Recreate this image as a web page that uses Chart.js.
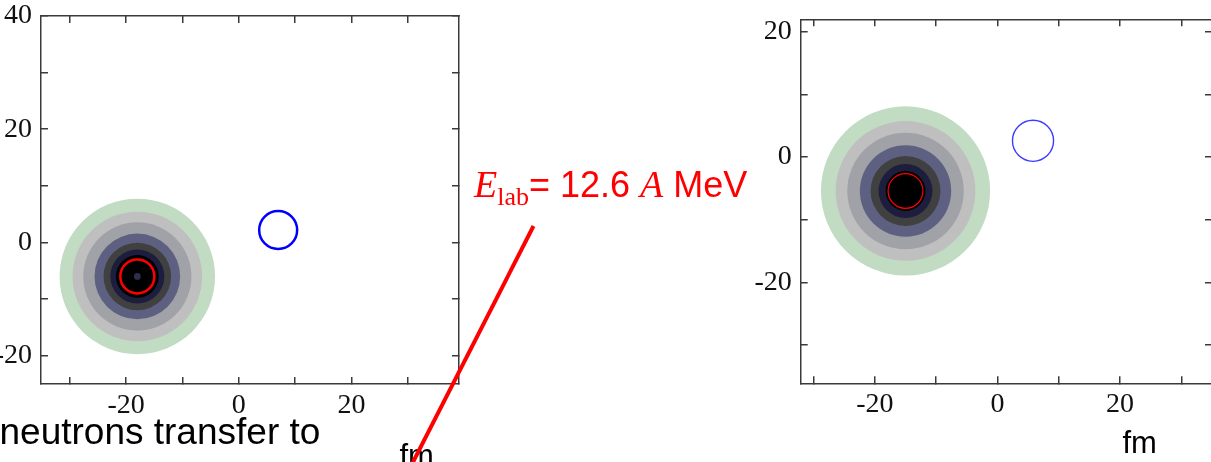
<!DOCTYPE html>
<html>
<head>
<meta charset="utf-8">
<script src="https://cdn.jsdelivr.net/npm/chart.js@4.4.1/dist/chart.umd.min.js"></script>
<style>
html, body { margin: 0; padding: 0; background: #fff; overflow: hidden; width: 1211px; height: 462px; position: relative; }
canvas { position: absolute; top: 0; }
#cl { left: 0; }
#cr { left: 740px; }
svg { position: absolute; left: 0; top: 0; }
</style>
</head>
<body>
<canvas id="cl" width="470" height="462"></canvas>
<canvas id="cr" width="480" height="462"></canvas>
<svg width="1211" height="462">
  <text x="-0.5" y="444" font-family="Liberation Sans" font-size="37" fill="#000">neutrons transfer to</text>
  <text x="399.5" y="466" font-family="Liberation Sans" font-size="31" fill="#000">fm</text>
  <text x="1122.5" y="453" font-family="Liberation Sans" font-size="31" fill="#000">fm</text>
  <line x1="533.5" y1="226" x2="411" y2="466" stroke="#ff0000" stroke-width="4"/>
  <text x="474" y="197" fill="#ff0000"><tspan font-family="Liberation Serif" font-style="italic" font-size="38">E</tspan><tspan font-family="Liberation Serif" font-size="26" dy="8">lab</tspan><tspan font-family="Liberation Sans" font-size="36" dy="-8">= 12.6 </tspan><tspan font-family="Liberation Serif" font-style="italic" font-size="38">A</tspan><tspan font-family="Liberation Sans" font-size="36"> MeV</tspan></text>
</svg>
<script>
// ring colours, outermost first
const ringColors = ['#c1dcc3', '#bfbfbf', '#a1a1a8', '#5e6081', '#404040', '#1d1d3e', '#000000'];

// left panel (fm)
const leftRange = { xMin: -35.1, xMax: 39.1, yMin: -25, yMax: 40 };
const leftCenter = { x: -18, y: -6 };
const leftRingRadii = [13.8, 11.5, 9.6, 7.6, 6.0, 4.8, 3.8];
const leftRedRadius = 3.02;
const leftDotRadius = 0.6;
const leftBlue = { x: 7.0, y: 2.2, r: 3.37 };

// right panel (fm)
const rightRange = { xMin: -32.1, xMax: 35.0, yMin: -36.1, yMax: 22 };
const rightCenter = { x: -15, y: -5.4 };
const rightRingRadii = [13.8, 11.4, 9.5, 7.45, 5.7, 4.4, 3.25];
const rightRedRadius = 2.84;
const rightBlue = { x: 5.8, y: 2.6, r: 3.35 };

// radius in data units -> pixels, through the x scale
const pxr = (chart, r) => Math.abs(chart.scales.x.getPixelForValue(r) - chart.scales.x.getPixelForValue(0));

function circle(pt, r, fill, stroke, sw, order) {
  return {
    data: [{ x: pt.x, y: pt.y }],
    pointRadius: c => pxr(c.chart, r),
    pointHoverRadius: c => pxr(c.chart, r),
    pointBackgroundColor: fill,
    pointBorderColor: stroke || 'rgba(0,0,0,0)',
    pointBorderWidth: sw || 0,
    order: order
  };
}

function axis(pos, min, max, size, labels) {
  return {
    type: 'linear',
    position: pos,
    min: min,
    max: max,
    border: { display: true, color: '#3a3a3a', width: 1.5 },
    grid: { display: true, drawOnChartArea: false, drawTicks: true, tickLength: -7, color: '#3a3a3a', lineWidth: 1.5 },
    ticks: {
      display: labels,
      stepSize: 10,
      includeBounds: false,
      autoSkip: false,
      maxRotation: 0,
      padding: (pos === 'left' || pos === 'right') ? 16 : 12,
      color: '#111',
      font: { family: 'Liberation Serif', size: 28 },
      callback: v => (v % 20 === 0 ? String(v) : '')
    },
    afterFit: s => {
      if (s.isHorizontal()) s.height = size; else s.width = size;
      // no extra room for labels hanging past the ends
      s.paddingTop = 0; s.paddingBottom = 0; s.paddingLeft = 0; s.paddingRight = 0;
    }
  };
}

function makePanel(id, range, center, radii, redR, redW, dotR, blue, blueColor, blueW, pad, yw, xh) {
  const datasets = [];
  radii.forEach((r, i) => datasets.push(circle(center, r, ringColors[i], null, 0, 100 - i)));
  datasets.push(circle(center, redR, 'rgba(0,0,0,0)', '#ff0000', redW, 5));
  if (dotR) datasets.push(circle(center, dotR, '#2e2e4e', null, 0, 4));
  datasets.push(circle(blue, blue.r, 'rgba(0,0,0,0)', blueColor, blueW, 3));

  return new Chart(document.getElementById(id), {
    type: 'scatter',
    data: { datasets: datasets },
    options: {
      responsive: false,
      animation: false,
      events: [],
      layout: { padding: pad },
      plugins: { legend: { display: false }, tooltip: { enabled: false } },
      scales: {
        x: axis('bottom', range.xMin, range.xMax, xh, true),
        x2: axis('top', range.xMin, range.xMax, 0, false),
        y: axis('left', range.yMin, range.yMax, yw, true),
        y2: axis('right', range.yMin, range.yMax, 0, false)
      }
    }
  });
}

makePanel('cl', leftRange, leftCenter, leftRingRadii, leftRedRadius, 2.5, leftDotRadius, leftBlue, '#0000ff', 2.5,
  { top: 16, right: 11, left: 0, bottom: 0 }, 41, 78);
makePanel('cr', rightRange, rightCenter, rightRingRadii, rightRedRadius, 1.2, 0, rightBlue, '#3c3cff', 1.4,
  { top: 19.3, right: 8, left: 0, bottom: 0 }, 60.7, 78.7);
</script>
</body>
</html>
